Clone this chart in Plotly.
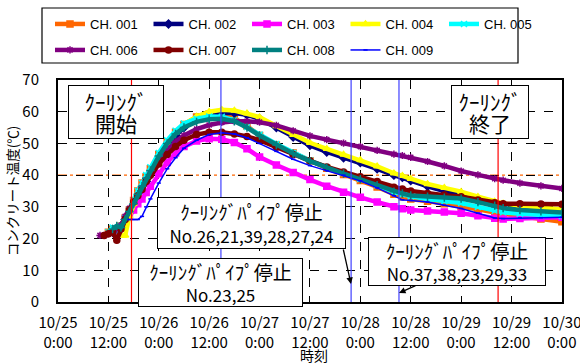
import plotly.graph_objects as go
from datetime import datetime, timedelta

# hours since 10/25 0:00
hours = [10, 11, 12, 13, 14, 15, 16, 17, 18, 19, 20, 21, 22, 24, 26, 28, 30, 33, 36, 39, 42, 45, 48,
         52, 56, 60, 64, 68, 72, 76, 80, 82, 84, 88, 92, 96, 100, 104, 106, 110, 115, 120]

ch001 = [None, None, 22, 23, 22, 24, 26.5, 29, 32, 35, 37.5, 39.5, 42, 46.5, 50.5, 53.5, 56, 58.3, 59.3, 59.2, 58, 55.5, 52.5,
         49.5, 47, 44.5, 42.2, 40.2, 38.3, 36.3, 34, 33.2, 32.5, 31.8, 31, 30.2, 29.2, 28.2, 27.8, 27, 26.2, 25.3]
ch002 = [None, None, None, 22, 23, 24, 26, 28, 30.5, 33, 35.5, 38, 40.5, 45, 49, 52.5, 55, 57.5, 59, 59.6, 59.6, 59, 57.8,
         55, 52, 49.4, 47.3, 45.5, 44, 42, 40, 39.3, 38.3, 36.5, 35, 33.8, 32, 30.3, 29.6, 29, 28.5, 28]
ch003 = [None, None, None, 22, 23, 23.5, 25.5, 27, 29, 31, 32.5, 34.5, 36.5, 40.5, 44, 47, 49, 50.8, 51.5, 51.3, 50.3, 48.3, 45.7,
         43.2, 40.8, 38.6, 36.5, 34.6, 33, 31.5, 30, 29.4, 29, 28.7, 28.4, 28, 27.2, 26.4, 26.2, 26.3, 26.5, 26.7]
ch004 = [None, None, None, None, None, 21, 21, 27, 31, 34, 36.5, 39, 41.5, 46, 50, 53.5, 56, 58.5, 60, 60.6, 60.4, 59.5, 58.3,
         55.5, 52.7, 50.2, 48.3, 46.5, 44.8, 42.8, 40.6, 39.8, 38.9, 37.2, 36, 34.8, 33.2, 31.7, 31.1, 30.4, 29.8, 29.2]
ch005 = [None, None, 22, 23.5, 22.5, 24, 26.5, 29, 32, 35, 37.5, 40, 42.5, 47, 51, 54, 56.3, 57.8, 58.5, 58.4, 57.3, 55.2, 52.8,
         49.8, 47, 44.6, 42.5, 40.7, 38.8, 36.8, 34.7, 34, 33.3, 32.5, 31.8, 31.2, 30, 28.8, 28.3, 27.8, 27.4, 27.1]
ch006 = [21, 21, 21.5, 22, 23, 24, 27, 29.5, 31.5, 33.5, 36, 38.5, 40.5, 44.5, 48, 50.5, 52.5, 54.5, 55.8, 56.6, 57, 57, 56.7,
         55.7, 54, 52.4, 51.2, 50.1, 49, 47.8, 46.6, 46.2, 45.6, 44.3, 42.9, 41.3, 40.1, 38.9, 38.4, 37.5, 36.6, 35.8]
ch007 = [None, 21, 21.5, 22, 19.5, 23, 26, 29, 31.5, 33.5, 35.5, 38, 40, 43.5, 46.5, 49, 51, 52.8, 53.5, 53.5, 53, 52.2, 51,
         48.8, 46.5, 44.5, 42.6, 41, 39.5, 38, 36.2, 35.6, 35, 34.2, 33.7, 33.2, 32.2, 31.3, 31, 31, 30.9, 30.8]
ch008 = [None, None, None, 23, 24, 23.5, 26, 28.5, 31, 34, 36.5, 39, 41.5, 46, 50, 53, 55, 56.8, 57.6, 57.8, 57, 55, 52.5,
         49.5, 46.8, 44.4, 42.3, 40.5, 38.7, 36.8, 34.8, 34.2, 33.6, 33.2, 32.9, 32.6, 31.5, 30.4, 29.6, 29, 28.6, 28.2]
ch009 = [None, None, None, None, None, None, None, 26, 26, 26, 27, 30, 32.5, 37.5, 42, 45.5, 48.5, 51, 52.8, 53.4, 53, 51.8, 50,
         47.5, 45, 43, 41.4, 40, 38.2, 36, 33.5, 32.2, 32, 31.5, 30.5, 29.5, 28, 26.5, 26.3, 26.5, 26.6, 26.7]

names = ["CH. 001", "CH. 002", "CH. 003", "CH. 004", "CH. 005", "CH. 006", "CH. 007", "CH. 008", "CH. 009"]
series = [ch001, ch002, ch003, ch004, ch005, ch006, ch007, ch008, ch009]
colors = ["#FF6600", "#000080", "#FF00FF", "#FFFF00", "#00FFFF", "#800080", "#800000", "#008080", "#0000FF"]
symbols = ["square", "diamond", "square", "triangle-up", "x-thin", "asterisk", "circle", "cross-thin", "line-ew"]

cooling_start_h = 17.5
pipe_stop_h = [38.8, 69.8, 81.2]
cooling_end_h = 104.8
ref_temp = 40

base = datetime(2010, 10, 25)
def to_dt(h):
    return base + timedelta(hours=h)

times = [to_dt(h) for h in hours]

fig = go.Figure()
for i, (name, vals, col, sym) in enumerate(zip(names, series, colors, symbols)):
    thin = name == "CH. 009"
    fig.add_trace(go.Scatter(
        x=times, y=vals, name=name, legend="legend" if i < 5 else "legend2",
        mode="lines+markers", connectgaps=False,
        line=dict(color=col, width=1.5 if thin else 4.5),
        marker=dict(color=col, size=3 if thin else 6, symbol=sym,
                    line=dict(color=col, width=1.5)),
    ))

L, R, T, B = 58, 562, 80, 302
W, H = R - L, B - T
def px(x):
    return (x - L) / W
def py(y):
    return (B - y) / H

shapes = []
def vline(h, color):
    shapes.append(dict(type="line", xref="x", yref="paper", x0=to_dt(h), x1=to_dt(h), y0=0, y1=1,
                       line=dict(color=color, width=1.2), layer="above"))
vline(cooling_start_h, "#FF0000")
for h in pipe_stop_h:
    vline(h, "#4040FF")
vline(cooling_end_h, "#FF0000")
shapes.append(dict(type="line", xref="paper", yref="y", x0=0, x1=1, y0=ref_temp, y1=ref_temp,
                   line=dict(color="#FF6600", width=1.2, dash="dashdot"), layer="below"))
# legend frame
shapes.append(dict(type="rect", xref="paper", yref="paper", x0=px(42), x1=px(518), y0=py(8), y1=py(63),
                   line=dict(color="black", width=1.2), fillcolor="rgba(0,0,0,0)", layer="above"))

font_jp = "Noto Sans CJK JP"
ann = []
def box(cx, cy, text, w, h):
    ann.append(dict(xref="paper", yref="paper", x=px(cx), y=py(cy), text=text, showarrow=False,
                    font=dict(family=font_jp, size=17, color="black"), bgcolor="white",
                    bordercolor="black", borderwidth=1, width=w, height=h, align="center",
                    xanchor="center", yanchor="middle"))
big = "<span style='font-size:21px'>%s</span>"
pipe = "<span style='font-size:19px'>ｸｰﾘﾝｸﾞﾊﾟｲﾌﾟ停止</span>"
box(116, 112, big % "ｸｰﾘﾝｸﾞ" + "<br>" + big % "開始", 92, 50)
box(490, 112, big % "ｸｰﾘﾝｸﾞ" + "<br>" + big % "終了", 74, 50)
box(251, 223, pipe + "<br>No.26,21,39,28,27,24", 185, 48)
box(220, 282, pipe + "<br>No.23,25", 161, 45)
box(457, 261, pipe + "<br>No.37,38,23,29,33", 174, 45)

def arrow(hx, hy, tx, ty):
    ann.append(dict(xref="paper", yref="paper", x=px(hx), y=py(hy), ax=tx - hx, ay=ty - hy,
                    axref="pixel", ayref="pixel", text="", showarrow=True, arrowhead=2,
                    arrowsize=1, arrowwidth=1.3, arrowcolor="black"))
arrow(351, 284, 343, 248)
arrow(399, 293, 417, 285)

# x-axis title
ann.append(dict(xref="paper", yref="paper", x=px(314), y=py(355), text="時刻", showarrow=False,
                font=dict(family=font_jp, size=14, color="black"), xanchor="center", yanchor="middle"))

leg_common = dict(orientation="h", xanchor="left", yanchor="middle", borderwidth=0,
                  bgcolor="rgba(0,0,0,0)", font=dict(family="Liberation Sans", size=13),
                  entrywidth=53.5, entrywidthmode="pixels", itemwidth=30)

fig.update_layout(
    width=580, height=363,
    margin=dict(l=L, r=580 - R, t=T, b=363 - B, autoexpand=False),
    paper_bgcolor="white", plot_bgcolor="white",
    font=dict(family=font_jp, size=14, color="black"),
    shapes=shapes, annotations=ann,
    showlegend=True,
    legend=dict(x=px(50), y=py(24), **leg_common),
    legend2=dict(x=px(50), y=py(50), **leg_common),
    xaxis=dict(range=[to_dt(0), to_dt(120.02)], type="date", tick0=to_dt(0), dtick=12 * 3600 * 1000,
               tickformat="%m/%d<br>%-H:%M", showgrid=True, gridcolor="black", griddash="dash",
               gridwidth=1, showline=True, linecolor="black", linewidth=2, mirror=True, automargin=False,
               ticks="", tickfont=dict(size=15), ticklabeloverflow="allow", ticklabelstandoff=6),
    yaxis=dict(range=[0, 70], dtick=10, showgrid=True, gridcolor="black", griddash="dash", gridwidth=1,
               showline=True, linecolor="black", linewidth=2, mirror=True, zeroline=False, automargin=False,
               ticks="", tickfont=dict(size=15), ticklabelstandoff=14,
               title=dict(text="コンクリート温度(℃)", font=dict(size=13.5), standoff=0)),
)

fig.write_html("out.html", config={"displayModeBar": False},
               post_script="document.body.style.margin='0';")
